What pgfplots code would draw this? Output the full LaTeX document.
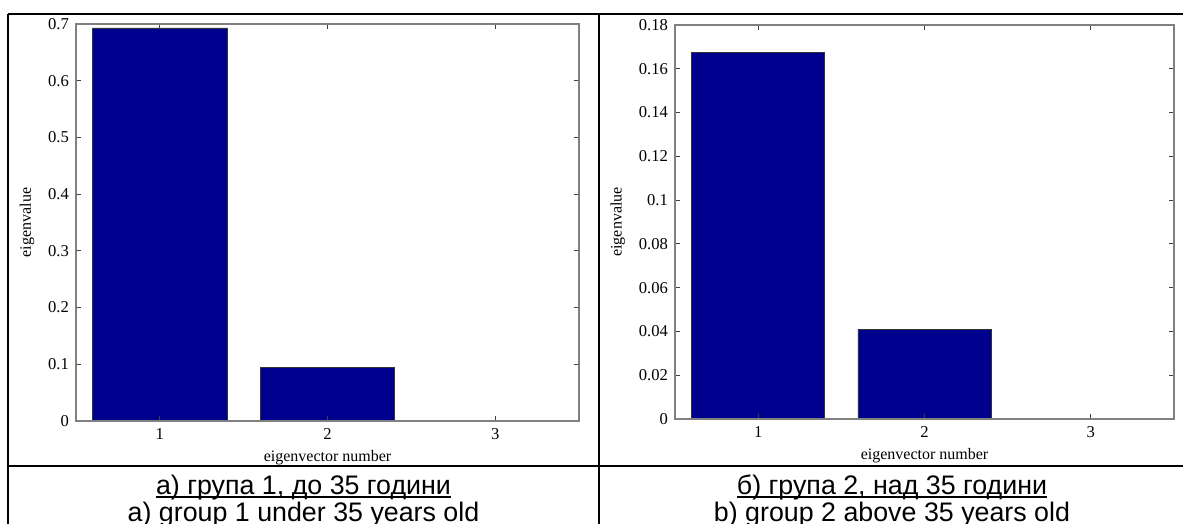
\documentclass[border=0pt]{standalone}
\usepackage{fontspec}
\setmainfont{Liberation Serif}
\newfontfamily\capfont{Liberation Sans}
\usepackage{pgfplots}
\pgfplotsset{compat=1.18}
\definecolor{barblue}{HTML}{00008F}
\definecolor{axgray}{HTML}{808080}
\pgfplotsset{
  eig/.style={
    scale only axis, axis on top,
    ybar, bar width=0.8,
    xmin=0.5, xmax=3.5, ymin=0,
    xtick={1,2,3},
    tick align=inside, major tick length=2.5pt,
    axis line style={axgray, line width=0.75pt},
    every tick/.style={black!75, line width=0.5pt},
    tick label style={font=\fontsize{8.3}{9}\selectfont},
    label style={font=\fontsize{8}{9}\selectfont},
    xlabel style={yshift=1.5pt},
    /pgf/number format/assume math mode=true,
    yticklabel style={/pgf/number format/fixed, /pgf/number format/precision=2},
    scaled y ticks=false,
    xlabel={eigenvector number}, ylabel={eigenvalue},
  }
}
\begin{document}
\begin{tikzpicture}
\useasboundingbox (0,0) rectangle (591.5pt,-262pt);
% table borders
\draw[line width=1.25pt] (4pt,-7pt) -- (600pt,-7pt);
\draw[line width=1.25pt] (4pt,-7pt) -- (4pt,-280pt);
\draw[line width=1.25pt] (299.5pt,-7pt) -- (299.5pt,-280pt);
\draw[line width=1.25pt] (592.5pt,-7pt) -- (592.5pt,-280pt);
\draw[line width=1.25pt] (4pt,-233pt) -- (600pt,-233pt);
% left axis
\begin{axis}[eig, at={(38pt,-210.5pt)}, anchor=south west,
  width=251.5pt, height=198.5pt, ymax=0.7, ytick distance=0.1]
\addplot[fill=barblue, draw=black!80, line width=0.4pt] coordinates {(1,0.693) (2,0.095) (3,0)};
\end{axis}
% right axis
\begin{axis}[eig, at={(337.5pt,-209.5pt)}, anchor=south west,
  width=249.5pt, height=197pt, ymax=0.18, ytick distance=0.02]
\addplot[fill=barblue, draw=black!80, line width=0.4pt] coordinates {(1,0.1675) (2,0.041) (3,0)};
\end{axis}
% captions
\begin{scope}[every node/.style={inner sep=0pt, font=\capfont\fontsize{13.4}{14}\selectfont}]
\node[anchor=base] (c1) at (151.75pt,-247pt) {а) група 1, до 35 години};
\draw[line width=0.9pt] ([yshift=-1.6pt]c1.base west) -- ([yshift=-1.6pt]c1.base east);
\node[anchor=base] at (151.75pt,-260.5pt) {а) group 1 under 35 years old};
\node[anchor=base] (c2) at (446pt,-247pt) {б) група 2, над 35 години};
\draw[line width=0.9pt] ([yshift=-1.6pt]c2.base west) -- ([yshift=-1.6pt]c2.base east);
\node[anchor=base] at (446pt,-260.5pt) {b) group 2 above 35 years old};
\end{scope}
\end{tikzpicture}
\end{document}
